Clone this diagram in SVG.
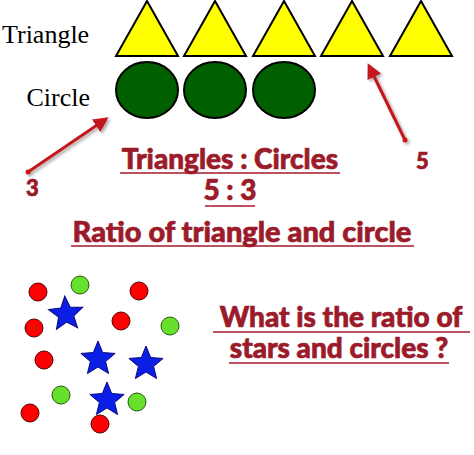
<svg xmlns="http://www.w3.org/2000/svg" width="474" height="455" viewBox="0 0 474 455">
<style>
.tri{fill:#ffff00;stroke:#000;stroke-width:2;stroke-linejoin:miter}
.gc{fill:#006000;stroke:#000;stroke-width:2}
.lbl{font-family:"Liberation Serif",serif;font-size:26px;fill:#000}
.rt{font-family:Lato,"Liberation Sans",sans-serif;font-weight:900;fill:#9b1b2b;stroke:#9b1b2b;stroke-width:0.7}
.ul{stroke:#a3182b;stroke-width:1.6}
.arr{stroke:#c4161c;stroke-width:3;fill:none}
.rd{fill:#ff0000;stroke:#500;stroke-width:1}
.gd{fill:#66e02a;stroke:#2a5a10;stroke-width:1}
.st{fill:#0a1ee6;stroke:#0a0a80;stroke-width:1}
</style>
<defs>
<marker id="ah" viewBox="0 0 10 10" refX="8" refY="5" markerWidth="5" markerHeight="5" orient="auto" markerUnits="strokeWidth">
<path d="M0,0 L10,5 L0,10 z" fill="#c4161c"/>
</marker>
<filter id="sh" x="-20%" y="-20%" width="140%" height="140%">
<feDropShadow dx="2" dy="2" stdDeviation="1.5" flood-color="#000" flood-opacity="0.35"/>
</filter>
<polygon id="star" points="0,-18 4.7,-6.47 17.12,-5.56 7.61,2.47 10.58,14.56 0,8 -10.58,14.56 -7.61,2.47 -17.12,-5.56 -4.7,-6.47"/>
</defs>

<g id="label-triangle"><text class="lbl" x="2" y="43">Triangle</text></g>
<g id="label-circle"><text class="lbl" x="90" y="106" text-anchor="end">Circle</text></g>

<g id="triangles">
<polygon class="tri" points="147,1 178,56 116,56"/>
<polygon class="tri" points="215,1 246,56 184,56"/>
<polygon class="tri" points="284,1 315,56 253,56"/>
<polygon class="tri" points="352,1 383,56 321,56"/>
<polygon class="tri" points="421,1 452,56 390,56"/>
</g>

<g id="circles">
<ellipse class="gc" cx="147" cy="90" rx="31" ry="28"/>
<ellipse class="gc" cx="215" cy="90" rx="31" ry="28"/>
<ellipse class="gc" cx="284" cy="90" rx="31" ry="28"/>
</g>

<g id="connectors" filter="url(#sh)">
<line class="arr" x1="28" y1="172" x2="106" y2="119" marker-end="url(#ah)"/>
<circle cx="28" cy="172" r="2.5" fill="#c4161c"/>
<line class="arr" x1="405" y1="140" x2="369" y2="66" marker-end="url(#ah)"/>
<circle cx="405" cy="140" r="2.5" fill="#c4161c"/>
</g>

<g id="num-3"><text class="rt" x="26" y="196" font-size="22">3</text></g>
<g id="num-5"><text class="rt" x="416" y="169" font-size="22">5</text></g>

<g id="ratio-text">
<text class="rt" x="230" y="169" font-size="28" text-anchor="middle">Triangles : Circles</text>
<line class="ul" x1="120" y1="173" x2="340" y2="173"/>
<text class="rt" x="230" y="200" font-size="28" text-anchor="middle">5 : 3</text>
<line class="ul" x1="205" y1="206" x2="255" y2="206"/>
<text class="rt" x="242" y="242" font-size="29" text-anchor="middle">Ratio of triangle and circle</text>
<line class="ul" x1="71" y1="246" x2="414" y2="246"/>
</g>

<g id="question">
<text class="rt" x="341" y="327" font-size="28" text-anchor="middle">What is the ratio of</text>
<line class="ul" x1="213" y1="332" x2="470" y2="332"/>
<text class="rt" x="339" y="358" font-size="28" text-anchor="middle">stars and circles ?</text>
<line class="ul" x1="229" y1="363" x2="449" y2="363"/>
</g>

<g id="dots">
<circle class="rd" cx="38" cy="292" r="9"/>
<circle class="rd" cx="34" cy="328" r="9"/>
<circle class="rd" cx="44" cy="360" r="9"/>
<circle class="rd" cx="30" cy="413" r="9"/>
<circle class="rd" cx="100" cy="424" r="9"/>
<circle class="rd" cx="139" cy="291" r="9"/>
<circle class="rd" cx="121" cy="321" r="9"/>
<circle class="gd" cx="80" cy="285" r="9"/>
<circle class="gd" cx="170" cy="326" r="9"/>
<circle class="gd" cx="61" cy="395" r="9"/>
<circle class="gd" cx="137" cy="402" r="9"/>
</g>

<g id="stars">
<use href="#star" class="st" transform="translate(66,314) rotate(-4)"/>
<use href="#star" class="st" transform="translate(98,359)"/>
<use href="#star" class="st" transform="translate(146,364)"/>
<use href="#star" class="st" transform="translate(107,400)"/>
</g>
</svg>
